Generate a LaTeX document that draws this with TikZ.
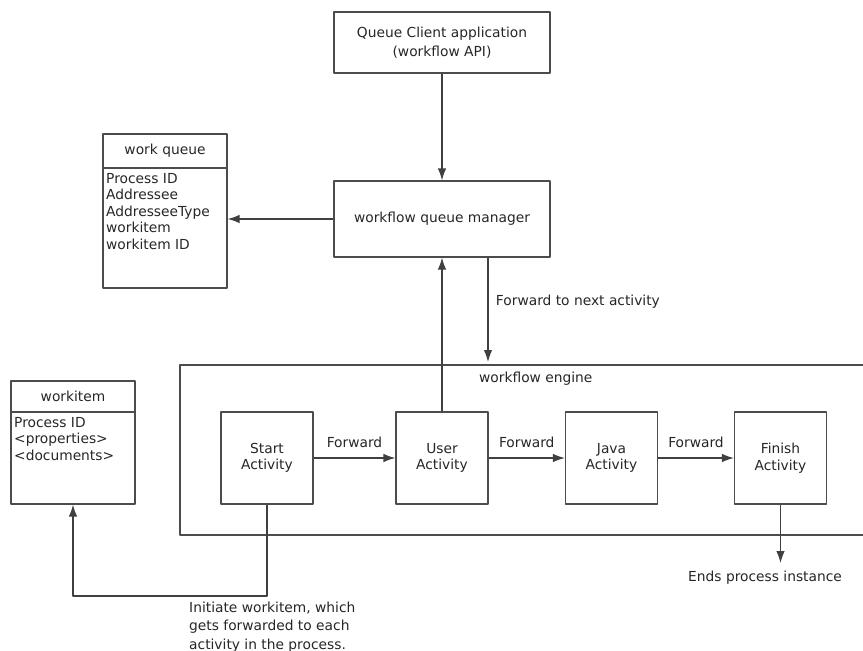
\documentclass[tikz,border=0pt]{standalone}
\usepackage{fontspec}
\setmainfont{DejaVu Sans}
\usetikzlibrary{arrows.meta}
\begin{document}
\begin{tikzpicture}[x=1pt,y=-1pt,line join=round,>={Latex[length=12pt,width=8.5pt]}]
\tikzset{every node/.style={font=\fontsize{13.8}{16.5}\selectfont,text=black!85},
box/.style={draw=black!70,line width=1.2pt,inner sep=0pt,align=center},
fields/.style={anchor=north west,inner sep=0pt,align=left},
link/.style={draw=black!75,line width=1.2pt,->},
frame/.style={draw=black!70,line width=1.2pt}}
\useasboundingbox (0,0) rectangle (863,651);
% queue side
\node[box,minimum width=216pt,minimum height=61pt,font=\fontsize{13.8}{19}\selectfont] (client) at (442,42.5) {Queue Client application\\(workflow API)};
\node[box,minimum width=216pt,minimum height=76pt] (manager) at (442,219) {workflow queue manager};
\node[box,minimum width=124pt,minimum height=34pt] (wqhead) at (165,151) {work queue};
\node[box,minimum width=124pt,minimum height=120pt] (wqbody) at (165,228) {};
\node[fields] (wqtext) at (106,173) {Process ID\\Addressee\\AddresseeType\\workitem\\workitem ID};
\node[box,minimum width=124pt,minimum height=31pt] (wihead) at (73,396.5) {workitem};
\node[box,minimum width=124pt,minimum height=92pt] (wibody) at (73,458) {};
\node[fields] (witext) at (14,417) {Process ID\\<properties>\\<documents>};
% engine
\draw[frame] (863,365) -| (180,535) -- (863,535);
\node[anchor=west,inner sep=0pt] (engine) at (479,379) {workflow engine};
\foreach \name/\x/\txt in {start/267/Start, user/442/User, java/611.5/Java, finish/780.5/Finish}
\node[box,minimum width=92pt,minimum height=92pt] (\name) at (\x,458) {\txt\\Activity};
\draw[link] (start) -- node[above=6pt] {Forward} (user);
\draw[link] (user) -- node[above=6pt] {Forward} (java);
\draw[link] (java) -- node[above=6pt] {Forward} (finish);
% connectors
\coordinate (entry) at (488,362);
\coordinate (done) at (780.5,563);
\coordinate (turn) at (267,596);
\draw[link] (client) -- (manager);
\draw[link] (manager.west) -- (manager.west -| wqbody.east);
\draw[link] (user) -- (manager);
\draw[link] (entry |- manager.south) -- node[pos=0.42,right=4pt] {Forward to next activity} (entry);
\draw[link] (finish) -- (done);
\node[anchor=north west,inner sep=0pt] (endtext) at (688,571) {Ends process instance};
\draw[link] (start.south) -- (turn) -| (wibody.south);
\node[fields,font=\fontsize{13.8}{18.3}\selectfont] (note) at (189,602) {Initiate workitem, which\\gets forwarded to each\\activity in the process.};
\end{tikzpicture}
\end{document}
